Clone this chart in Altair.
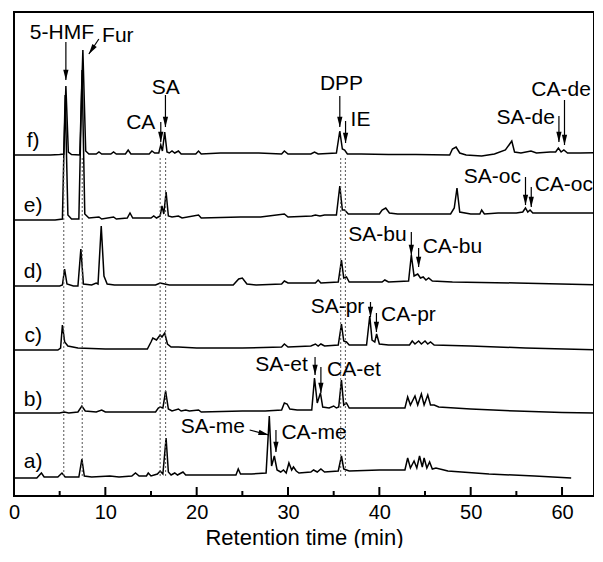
import math
import altair as alt
import pandas as pd

# ---------------- layout constants ----------------
X_MAX = 63.5
W, H = 580, 484
Y_MIN, Y_MAX = 3, 487
PX_PER_MIN = W / X_MAX
PX_PER_UNIT = H / (Y_MAX - Y_MIN)
FONT = "Liberation Sans"

# ---------------- data: chromatograms (time in min, signal above nominal baseline) ----------------
trace_names = ["a)", "b)", "c)", "d)", "e)", "f)"]
trace_offsets = [21, 86, 149, 213, 279, 344]

f_t = [0, 4.0, 5.0, 5.45, 5.68, 5.95, 6.3, 7.2, 7.54, 7.85, 8.2, 9.0, 9.3, 9.6, 10.6, 10.9, 11.2,
       12.2, 12.5, 12.8, 14.8, 15.1, 15.4, 15.85, 16.07, 16.25, 16.5, 16.75, 17.0, 17.3, 17.6, 18.0,
       18.3, 19.9, 20.2, 20.5, 22.6, 24.8, 26.8, 29.3, 29.6, 30.0, 32.5, 32.9, 33.3, 35.3, 35.67,
       35.95, 36.2, 36.5, 38, 41, 44, 47.7, 48.0, 48.4, 48.8, 49.5, 51.2, 52.6, 53.8, 54.5, 54.8,
       55.5, 56.6, 57.2, 58.7, 59.3, 59.6, 59.9, 60.2, 60.6, 62, 64.3]
f_h = [0, 0, 0.5, 1, 69, 3, 0.5, 0, 105, 4, 1, 1, 3, 1, 1, 3, 1,
       1, 5, 1, 1, 4, 2, 2, 10, 4, 23, 3, 2, 4, 2, 4,
       1, 1, 4, 1, 2, 2, 2, 1, 4, 1, 1, 3, 1, 2, 24,
       6, 5, 1, 1, 0.5, 0.5, 0, 6, 8, 2, 0, -1, 1, 5, 14, 3,
       2, 4, 2, 3, 3, 7, 3, 5, 2, 2, 2.5]

e_t = [0, 4.5, 5.3, 5.6, 5.9, 6.3, 7.1, 7.45, 7.75, 8.2, 9.3, 9.6, 10.9, 11.2, 12.4, 12.7, 13.0,
       15.0, 15.3, 15.6, 16.0, 16.2, 16.4, 16.65, 16.9, 17.3, 18.0, 18.4, 20.2, 20.5, 24.8, 27,
       29.6, 30, 32.6, 33.0, 33.5, 34, 35.3, 35.67, 35.95, 36.2, 36.6, 38, 40.0, 40.3, 40.7, 41.1,
       42, 47.8, 48.2, 48.5, 48.8, 50, 51.0, 51.2, 51.5, 53, 55.0, 55.7, 56.0, 56.25, 56.5, 56.8,
       60, 64.3]
e_h = [0, 0, 1, 125, 5, 1, 1, 150, 6, 2, 3, 1, 3, 1, 2, 7, 2,
       2, 4, 2, 4, 14, 6, 28, 4, 3, 4, 2, 5, 2, 3, 3,
       6, 3, 4, 5, 4, 5, 5, 34, 10, 10, 6, 6, 6, 10, 12, 7,
       6, 6, 12, 32, 8, 6, 6, 10, 6, 7, 7, 8, 12, 8, 10, 7,
       7, 7]

d_t = [0, 5.0, 5.3, 5.54, 5.8, 6.5, 7.0, 7.32, 7.6, 8.5, 9.0, 9.2, 9.55, 9.85, 10.2, 11, 15.5,
       16.0, 16.5, 17, 24.0, 24.6, 25.0, 25.5, 26.5, 29.3, 29.6, 30, 33.0, 33.3, 33.6, 35.5, 35.85,
       36.1, 36.4, 36.7, 40.3, 40.6, 41, 43.2, 43.5, 43.8, 44.2, 44.5, 44.8, 45.1, 45.4, 45.8, 48,
       55, 64.3]
d_h = [0, 0, 1, 17, 2, 0, 0, 37, 2, 1, 3, 2, 60, 10, 2, 1, 1,
       3, 2, 1, 1, 7, 8, 2, 1, 2, 5, 3, 3, 6, 3, 4, 26,
       8, 9, 4, 4, 6, 4, 5, 31, 10, 12, 8, 9, 6, 8, 5, 4,
       3, 1]

c_t = [0, 4.8, 5.1, 5.3, 5.55, 5.9, 7, 10, 13, 14.6, 15.0, 15.2, 15.6, 16.0, 16.2, 16.5, 16.8,
       17.2, 18, 20, 25, 29.3, 29.6, 30, 32.5, 33.0, 33.3, 33.6, 34, 35.5, 35.85, 36.1, 36.4, 36.7,
       38.6, 38.95, 39.2, 39.5, 39.7, 40.0, 41, 43.3, 43.6, 43.9, 44.3, 44.6, 45.0, 45.3, 45.6, 46,
       50, 56, 64.3]
c_h = [0, 0, 2, 25, 8, 4, 2, 1, 1, 1, 8, 12, 10, 15, 13, 17, 6,
       3, 3, 2, 2, 3, 6, 3, 4, 6, 4, 6, 4, 5, 26, 9, 8, 5,
       5, 34, 10, 8, 16, 6, 5, 5, 9, 6, 9, 6, 9, 6, 8, 5,
       4, 2, 0]

b_t = [0, 5.0, 5.5, 6, 7.0, 7.43, 7.8, 9.0, 9.6, 10, 15.5, 15.8, 16.0, 16.3, 16.6, 16.9, 17.3,
       18.0, 18.3, 18.8, 19.2, 20.2, 20.5, 25.0, 27.5, 29.3, 29.6, 29.9, 30.2, 31, 32.6, 32.9, 33.2,
       33.55, 33.8, 34.5, 35.0, 35.3, 35.55, 35.85, 36.1, 36.4, 36.7, 40, 42.8, 43.1, 43.4, 43.9,
       44.2, 44.6, 44.9, 45.3, 45.6, 46.0, 46.5, 50, 55, 60, 64.3]
b_h = [0, 0, 1, 0, 1, 7, 2, 1, 3, 1, 1, 5, 6, 5, 22, 4, 2,
       4, 2, 3, 2, 3, 1, 2, 2, 3, 10, 9, 4, 3, 3, 35, 10,
       20, 6, 5, 7, 5, 6, 33, 8, 10, 5, 5, 5, 16, 8, 17,
       8, 19, 8, 18, 8, 8, 6, 4, 2, 0.5, 0]

a_t = [0, 2.5, 3.0, 3.3, 4.8, 5.25, 5.6, 7.1, 7.43, 7.7, 8.5, 10.5, 11.5, 12.9, 13.3, 13.7, 14.5,
       14.7, 15.0, 15.7, 16.0, 16.3, 16.65, 16.9, 17.2, 17.6, 17.9, 18.5, 18.8, 20, 22, 24.3, 24.55,
       24.8, 26, 27.6, 27.95, 28.2, 28.5, 28.8, 29.2, 29.5, 29.8, 30.1, 30.4, 30.6, 30.9, 31.2, 32.5,
       32.8, 33.2, 33.6, 34, 35.5, 35.85, 36.1, 36.4, 36.7, 40, 42.8, 43.1, 43.4, 43.8, 44.1, 44.4,
       44.7, 44.9, 45.2, 45.5, 45.8, 46.2, 47.5, 52, 57, 61.0]
a_h = [0, 0, 5, 1, 1, 5, 1, 1, 19, 2, 1, 2, 1, 2, 5, 2, 2,
       5, 2, 4, 7, 4, 40, 6, 3, 5, 3, 6, 3, 3, 3, 3, 9,
       4, 4, 5, 62, 12, 22, 8, 6, 8, 5, 15, 8, 11, 7, 5, 6,
       8, 6, 9, 6, 7, 22, 9, 8, 7, 8, 8, 20, 10, 17, 10, 22,
       11, 20, 10, 16, 9, 10, 7, 4, 2, 0]

trace_times = [a_t, b_t, c_t, d_t, e_t, f_t]
trace_heights = [a_h, b_h, c_h, d_h, e_h, f_h]

# trace label positions (time, level)
trace_label_t = [2.1, 2.1, 2.1, 2.1, 2.1, 2.1]
trace_label_y = [37, 99, 163, 227, 293, 358]

# dotted guide lines through the marker peaks
dotted_t = [5.45, 7.47, 16.0, 16.6, 35.77, 36.28]
DOTTED_TOP, DOTTED_BOTTOM = 342, 23

# peak annotations: label text + label position, arrow start and arrow tip
ann_text = ["5-HMF", "Fur", "CA", "SA", "DPP", "IE", "SA-de", "CA-de", "SA-oc", "CA-oc",
            "SA-bu", "CA-bu", "SA-pr", "CA-pr", "SA-et", "CA-et", "SA-me", "CA-me"]
ann_label_t = [5.25, 11.37, 13.88, 16.62, 35.86, 37.94, 56.03, 59.9, 52.37, 60.2,
               39.8, 48.0, 35.42, 43.18, 29.3, 37.22, 21.76, 32.85]
ann_label_y = [466, 463, 376, 411, 415, 379, 381.5, 409, 322, 314,
               264, 252, 192, 184, 134, 129, 72, 66]
arr_t1 = [5.68, 9.29, 16.07, 16.58, 35.67, 36.3, 59.66, 60.27, 56.0, 56.63,
          43.5, 44.3, 39.03, 39.68, 32.96, 33.6, 25.8, 28.68]
arr_y1 = [457, 460, 377, 404, 403, 378, 383, 399, 322, 312,
          267, 251, 197, 186, 142, 132, 69, 69]
arr_t2 = [5.68, 8.2, 16.07, 16.58, 35.67, 36.3, 59.66, 60.27, 56.0, 56.63,
          43.5, 44.3, 39.03, 39.68, 32.96, 33.6, 27.88, 28.68]
arr_y2 = [419, 445, 357, 372, 372, 356, 357, 354, 294, 292,
          244, 232, 182, 167, 124, 106, 64, 47]

major_ticks = [0, 10, 20, 30, 40, 50, 60]
minor_ticks = [5, 15, 25, 35, 45, 55]
MAJOR_LEN, MINOR_LEN = 9, 5

# ---------------- build tables ----------------
rows = []
for name, off, ts, hs in zip(trace_names, trace_offsets, trace_times, trace_heights):
    for i, (t, h) in enumerate(zip(ts, hs)):
        rows.append({"trace": name, "i": i, "t": t, "v": off + h})
df = pd.DataFrame(rows)

labels_df = pd.DataFrame({"text": trace_names, "t": trace_label_t, "y": trace_label_y})
dotted_df = pd.DataFrame({"t": dotted_t, "y0": [DOTTED_BOTTOM] * len(dotted_t),
                          "y1": [DOTTED_TOP] * len(dotted_t)})
ann_df = pd.DataFrame({"text": ann_text, "t": ann_label_t, "y": ann_label_y})

heads = []
for t1, y1, t2, y2 in zip(arr_t1, arr_y1, arr_t2, arr_y2):
    dx = (t2 - t1) * PX_PER_MIN
    dy = -(y2 - y1) * PX_PER_UNIT
    n = math.hypot(dx, dy)
    ux, uy = dx / n, dy / n
    cx = t2 * PX_PER_MIN - 5 * ux
    cy = -y2 * PX_PER_UNIT - 5 * uy
    ang = round(math.degrees(math.atan2(-ux, uy)) % 360, 2)
    heads.append({"t": cx / PX_PER_MIN, "y": -cy / PX_PER_UNIT, "ang": ang})
arrow_df = pd.DataFrame({"t1": arr_t1, "y1": arr_y1, "t2": arr_t2, "y2": arr_y2})
head_df = pd.DataFrame(heads)

tick_rows = [{"t": t, "y0": Y_MIN, "y1": Y_MIN + MAJOR_LEN / PX_PER_UNIT} for t in major_ticks] + \
            [{"t": t, "y0": Y_MIN, "y1": Y_MIN + MINOR_LEN / PX_PER_UNIT} for t in minor_ticks]
tick_df = pd.DataFrame(tick_rows)

# ---------------- chart ----------------
xs = alt.Scale(domain=[0, X_MAX], nice=False, zero=False)
ys = alt.Scale(domain=[Y_MIN, Y_MAX], nice=False, zero=False)

x_axis = alt.Axis(values=major_ticks, format="d", title="Retention time (min)", grid=False,
                  ticks=False, tickSize=0, domain=False, labelFlush=False, labelFontSize=20,
                  labelFont=FONT, labelColor="black", labelPadding=6, titleFontSize=22,
                  titleFont=FONT, titleFontWeight="normal", titleColor="black", titlePadding=5)

lines = alt.Chart(df).mark_line(color="black", strokeWidth=1.5, clip=True).encode(
    x=alt.X("t:Q", scale=xs, axis=x_axis),
    y=alt.Y("v:Q", scale=ys, axis=None),
    detail="trace:N",
    order="i:Q",
)

dotted = alt.Chart(dotted_df).mark_rule(color="#555555", strokeWidth=1, strokeDash=[2, 2]).encode(
    x="t:Q", y="y0:Q", y2="y1:Q")

ticks = alt.Chart(tick_df).mark_rule(color="black", strokeWidth=2).encode(
    x="t:Q", y="y0:Q", y2="y1:Q")

arrows = alt.Chart(arrow_df).mark_rule(color="black", strokeWidth=1.2).encode(
    x="t1:Q", y="y1:Q", x2="t2:Q", y2="y2:Q")

arrowheads = alt.Chart(head_df).mark_point(
    shape="M-0.5,-1L0.5,-1L0,1Z", filled=True, size=110, color="black", opacity=1
).encode(x="t:Q", y="y:Q", angle=alt.Angle("ang:Q", scale=None))

ann = alt.Chart(ann_df).mark_text(font=FONT, fontSize=21, color="black", align="center",
                                  baseline="middle").encode(
    x="t:Q", y="y:Q", text="text:N")

tlabels = alt.Chart(labels_df).mark_text(font=FONT, fontSize=21, color="black", align="center",
                                         baseline="middle").encode(
    x="t:Q", y="y:Q", text="text:N")

chart = alt.layer(lines, dotted, ticks, arrows, arrowheads, ann, tlabels).properties(
    width=W, height=H,
    padding={"left": 0, "top": 4, "right": 0, "bottom": 0},
).configure_view(stroke="black", strokeWidth=2)

chart.save("out.html", embed_options={"renderer": "svg", "actions": False})
